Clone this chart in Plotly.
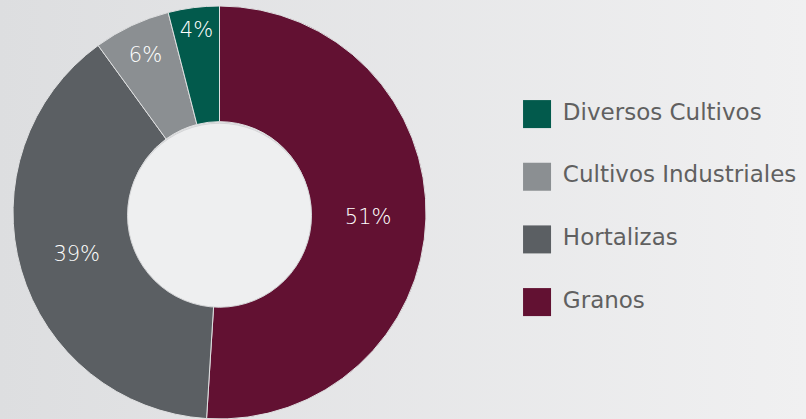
import plotly.graph_objects as go

# Slice data (clockwise from 12 o'clock)
categories = ['Granos', 'Hortalizas', 'Cultivos Industriales', 'Diversos Cultivos']
shares = [51, 39, 6, 4]
colors = ['#621132', '#5b5f63', '#8b8f92', '#025a4c']

font = 'DejaVu Sans'

fig = go.Figure()

fig.add_trace(go.Pie(
    labels=categories,
    values=shares,
    sort=False,
    direction='clockwise',
    rotation=0,
    hole=0.44,
    marker=dict(colors=colors, line=dict(color='#dfe0e1', width=1)),
    texttemplate='%{percent:.0%}',
    textposition='inside',
    insidetextorientation='horizontal',
    textfont=dict(family=font, size=21, color='white', weight=300),
    domain=dict(x=[0, 0.5447], y=[0, 1]),
    showlegend=False,
    hoverinfo='label+percent',
))

# lighter disc filling the donut hole
fig.add_trace(go.Pie(
    values=[1],
    labels=[''],
    marker=dict(colors=['#eeeff0'], line=dict(color='#d5d6d8', width=1)),
    textinfo='none',
    hoverinfo='skip',
    showlegend=False,
    domain=dict(x=[0.1582, 0.3865], y=[0.2639, 0.7228]),
))

# custom legend: big square swatches with labels
fig.add_trace(go.Scatter(
    x=[0] * len(categories),
    y=list(range(len(categories))),
    mode='markers+text',
    marker=dict(symbol='square', size=28, color=colors),
    text=[' ' + c for c in categories],
    textposition='middle right',
    textfont=dict(family=font, size=23, color='#606060'),
    cliponaxis=False,
    showlegend=False,
    hoverinfo='skip',
))

fig.update_layout(
    width=806, height=419,
    margin=dict(l=0, r=0, t=6, b=0),
    paper_bgcolor='rgba(0,0,0,0)',
    plot_bgcolor='rgba(0,0,0,0)',
    uniformtext=dict(minsize=20, mode='show'),
    xaxis=dict(domain=[0.6663, 1], range=[0, 1], visible=False, fixedrange=True),
    yaxis=dict(domain=[0.2831, 0.7383], range=[0, 3], visible=False, fixedrange=True),
)

page_style = (
    "document.body.style.margin='0';"
    "document.body.style.background='linear-gradient(90deg,#dddee0,#f0f0f1)';"
)
fig.write_html("out.html", post_script=page_style, config={'displayModeBar': False})
